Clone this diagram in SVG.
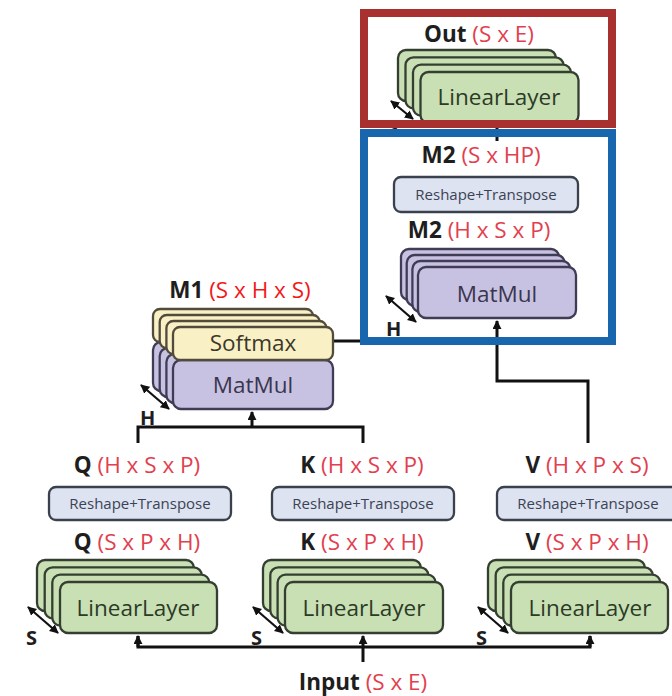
<svg xmlns="http://www.w3.org/2000/svg" width="672" height="696" viewBox="0 0 672 696">
  <defs>
    <style>
      .lbl { font-family: "Open Sans", "Liberation Sans", sans-serif; font-size: 22.5px; fill: #1e1e1e; }
      .lbl .b { font-weight: bold; }
      .dim { fill: #e2404e; }
      .dimR { fill: #f21818; }
      .lin { fill: #c8e0b4; stroke: #353f31; stroke-width: 2.3; }
      .mm { fill: #c8c2e2; stroke: #403c55; stroke-width: 2.3; }
      .sm { fill: #faf0c6; stroke: #504b3a; stroke-width: 2.3; }
      .rt { fill: #dde3f0; stroke: #3a404c; stroke-width: 2.3; }
      .ntxt { font-family: "Open Sans", "Liberation Sans", sans-serif; font-size: 22.5px; text-anchor: middle; }
      .lintxt { fill: #2c3a26; }
      .mmtxt { fill: #3a364e; }
      .smtxt { fill: #3b382a; }
      .rttxt { font-family: "Open Sans", "Liberation Sans", sans-serif; font-size: 15px; fill: #3b4255; text-anchor: middle; }
      .wire { fill: none; stroke: #111; stroke-width: 3; }
      .dbl { stroke: #111; stroke-width: 2.2; marker-start: url(#tipS); marker-end: url(#tipE); }
      .axis { font-family: "Open Sans", "Liberation Sans", sans-serif; font-size: 20px; font-weight: bold; fill: #1e1e1e; }
    </style>
    <marker id="arrow" viewBox="0 0 10 10" refX="9" refY="5" markerWidth="9" markerHeight="9" markerUnits="userSpaceOnUse" orient="auto">
      <path d="M0,0 L10,5 L0,10 z" fill="#111"/>
    </marker>
    <marker id="tipE" viewBox="0 0 10 10" refX="9" refY="5" markerWidth="9" markerHeight="9" markerUnits="userSpaceOnUse" orient="auto">
      <path d="M0,0 L10,5 L0,10 z" fill="#111"/>
    </marker>
    <marker id="tipS" viewBox="0 0 10 10" refX="1" refY="5" markerWidth="9" markerHeight="9" markerUnits="userSpaceOnUse" orient="auto">
      <path d="M10,0 L0,5 L10,10 z" fill="#111"/>
    </marker>
  </defs>

  <rect width="672" height="696" fill="#ffffff"/>

  <!-- wiring between blocks -->
  <g id="connectors">
    <!-- input fan-out to the three linear layers -->
    <path class="wire" d="M363,662 L363,636" marker-end="url(#arrow)"/>
    <path class="wire" d="M138,636 L138,647 L590,647 L590,636"/>
    <path class="wire" d="M138,647 L138,636" marker-end="url(#arrow)"/>
    <path class="wire" d="M590,647 L590,636" marker-end="url(#arrow)"/>
    <!-- Q and K into the first MatMul -->
    <path class="wire" d="M138,443 L138,427 L363,427 L363,443"/>
    <path class="wire" d="M252,427 L252,412" marker-end="url(#arrow)"/>
    <!-- V into the second MatMul -->
    <path class="wire" d="M588,443 L588,381 L497,381 L497,321" marker-end="url(#arrow)"/>
    <!-- softmax output to the attention block -->
    <path class="wire" d="M333,341 L362,341"/>
    <!-- reshaped M2 to output layer -->
    <path class="wire" d="M497,124 L497,141"/>
  </g>

  <!-- output projection -->
  <g id="out-linear">
    <rect class="lin" x="398" y="50" width="158" height="51" rx="8"/>
    <rect class="lin" x="405.5" y="57.3" width="158" height="51" rx="8"/>
    <rect class="lin" x="413" y="64.6" width="158" height="51" rx="8"/>
    <rect class="lin" x="420.5" y="72" width="158" height="51" rx="8"/>
    <text class="ntxt lintxt" x="499" y="105">LinearLayer</text>
    <line class="dbl" x1="391" y1="101" x2="413" y2="119"/>
    <text class="axis" x="387" y="134">S</text>
  </g>
  <g id="out-label">
    <text class="lbl" x="479" y="42" text-anchor="middle"><tspan class="b">Out</tspan> <tspan class="dim">(S x E)</tspan></text>
  </g>

  <!-- attention output block -->
  <g id="m2-label-top">
    <text class="lbl" x="481" y="163" text-anchor="middle"><tspan class="b">M2</tspan> <tspan class="dim">(S x HP)</tspan></text>
  </g>
  <g id="m2-reshape">
    <rect class="rt" x="394" y="177" width="184" height="35" rx="7"/>
    <text class="rttxt" x="486" y="200">Reshape+Transpose</text>
  </g>
  <g id="m2-label">
    <text class="lbl" x="479" y="238" text-anchor="middle"><tspan class="b">M2</tspan> <tspan class="dim">(H x S x P)</tspan></text>
  </g>
  <g id="m2-matmul">
    <rect class="mm" x="401" y="249" width="158" height="51" rx="8"/>
    <rect class="mm" x="406.7" y="255" width="158" height="51" rx="8"/>
    <rect class="mm" x="412.4" y="261" width="158" height="51" rx="8"/>
    <rect class="mm" x="418" y="267" width="158" height="51" rx="8"/>
    <text class="ntxt mmtxt" x="497" y="302">MatMul</text>
    <line class="dbl" x1="386" y1="296" x2="416" y2="322"/>
    <text class="axis" x="386" y="336">H</text>
  </g>

  <!-- scores block -->
  <g id="m1-label">
    <text class="lbl" x="240" y="298" text-anchor="middle"><tspan class="b">M1</tspan> <tspan class="dimR">(S x H x S)</tspan></text>
  </g>
  <g id="m1-stack">
    <rect class="mm" x="153" y="342" width="160" height="49" rx="8"/>
    <rect class="sm" x="153" y="309" width="160" height="33" rx="7"/>
    <rect class="mm" x="159.7" y="348" width="160" height="49" rx="8"/>
    <rect class="sm" x="159.7" y="315" width="160" height="33" rx="7"/>
    <rect class="mm" x="166.4" y="354" width="160" height="49" rx="8"/>
    <rect class="sm" x="166.4" y="321" width="160" height="33" rx="7"/>
    <rect class="mm" x="173" y="360" width="160" height="49" rx="8"/>
    <rect class="sm" x="173" y="327" width="160" height="33" rx="7"/>
    <text class="ntxt smtxt" x="253" y="351">Softmax</text>
    <text class="ntxt mmtxt" x="253" y="393">MatMul</text>
    <line class="dbl" x1="141" y1="385" x2="169" y2="409"/>
    <text class="axis" x="140" y="425">H</text>
  </g>

  <!-- query branch -->
  <g id="q-label-top">
    <text class="lbl" x="137" y="473" text-anchor="middle"><tspan class="b">Q</tspan> <tspan class="dim">(H x S x P)</tspan></text>
  </g>
  <g id="q-reshape">
    <rect class="rt" x="49" y="487" width="182" height="33" rx="7"/>
    <text class="rttxt" x="140" y="509">Reshape+Transpose</text>
  </g>
  <g id="q-label">
    <text class="lbl" x="137" y="550" text-anchor="middle"><tspan class="b">Q</tspan> <tspan class="dim">(S x P x H)</tspan></text>
  </g>
  <g id="q-linear">
    <rect class="lin" x="37" y="560" width="157" height="51" rx="8"/>
    <rect class="lin" x="44.7" y="567.3" width="157" height="51" rx="8"/>
    <rect class="lin" x="52.3" y="574.6" width="157" height="51" rx="8"/>
    <rect class="lin" x="60" y="582" width="157" height="51" rx="8"/>
    <text class="ntxt lintxt" x="138" y="616">LinearLayer</text>
    <line class="dbl" x1="28" y1="607" x2="58" y2="633"/>
    <text class="axis" x="26" y="645">S</text>
  </g>

  <!-- key branch -->
  <g id="k-label-top">
    <text class="lbl" x="362" y="473" text-anchor="middle"><tspan class="b">K</tspan> <tspan class="dim">(H x S x P)</tspan></text>
  </g>
  <g id="k-reshape">
    <rect class="rt" x="272" y="487" width="182" height="33" rx="7"/>
    <text class="rttxt" x="363" y="509">Reshape+Transpose</text>
  </g>
  <g id="k-label">
    <text class="lbl" x="362" y="550" text-anchor="middle"><tspan class="b">K</tspan> <tspan class="dim">(S x P x H)</tspan></text>
  </g>
  <g id="k-linear">
    <rect class="lin" x="263" y="560" width="158" height="51" rx="8"/>
    <rect class="lin" x="270.3" y="567.3" width="158" height="51" rx="8"/>
    <rect class="lin" x="277.6" y="574.6" width="158" height="51" rx="8"/>
    <rect class="lin" x="285" y="582" width="158" height="51" rx="8"/>
    <text class="ntxt lintxt" x="364" y="616">LinearLayer</text>
    <line class="dbl" x1="253" y1="607" x2="283" y2="633"/>
    <text class="axis" x="251" y="645">S</text>
  </g>

  <!-- value branch -->
  <g id="v-label-top">
    <text class="lbl" x="587" y="473" text-anchor="middle"><tspan class="b">V</tspan> <tspan class="dim">(H x P x S)</tspan></text>
  </g>
  <g id="v-reshape">
    <rect class="rt" x="497" y="487" width="182" height="33" rx="7"/>
    <text class="rttxt" x="588" y="509">Reshape+Transpose</text>
  </g>
  <g id="v-label">
    <text class="lbl" x="587" y="550" text-anchor="middle"><tspan class="b">V</tspan> <tspan class="dim">(S x P x H)</tspan></text>
  </g>
  <g id="v-linear">
    <rect class="lin" x="488" y="560" width="157" height="51" rx="8"/>
    <rect class="lin" x="495.7" y="567.3" width="157" height="51" rx="8"/>
    <rect class="lin" x="503.3" y="574.6" width="157" height="51" rx="8"/>
    <rect class="lin" x="511" y="582" width="157" height="51" rx="8"/>
    <text class="ntxt lintxt" x="590" y="616">LinearLayer</text>
    <line class="dbl" x1="478" y1="607" x2="508" y2="633"/>
    <text class="axis" x="476" y="645">S</text>
  </g>

  <g id="input-label">
    <text class="lbl" x="363" y="690" text-anchor="middle"><tspan class="b">Input</tspan> <tspan class="dim">(S x E)</tspan></text>
  </g>

  <!-- highlight frames -->
  <g id="frames">
    <rect x="364" y="13" width="248" height="111" fill="none" stroke="#a8302e" stroke-width="8"/>
    <rect x="364" y="133" width="248" height="208" fill="none" stroke="#1766ae" stroke-width="8"/>
  </g>
</svg>
